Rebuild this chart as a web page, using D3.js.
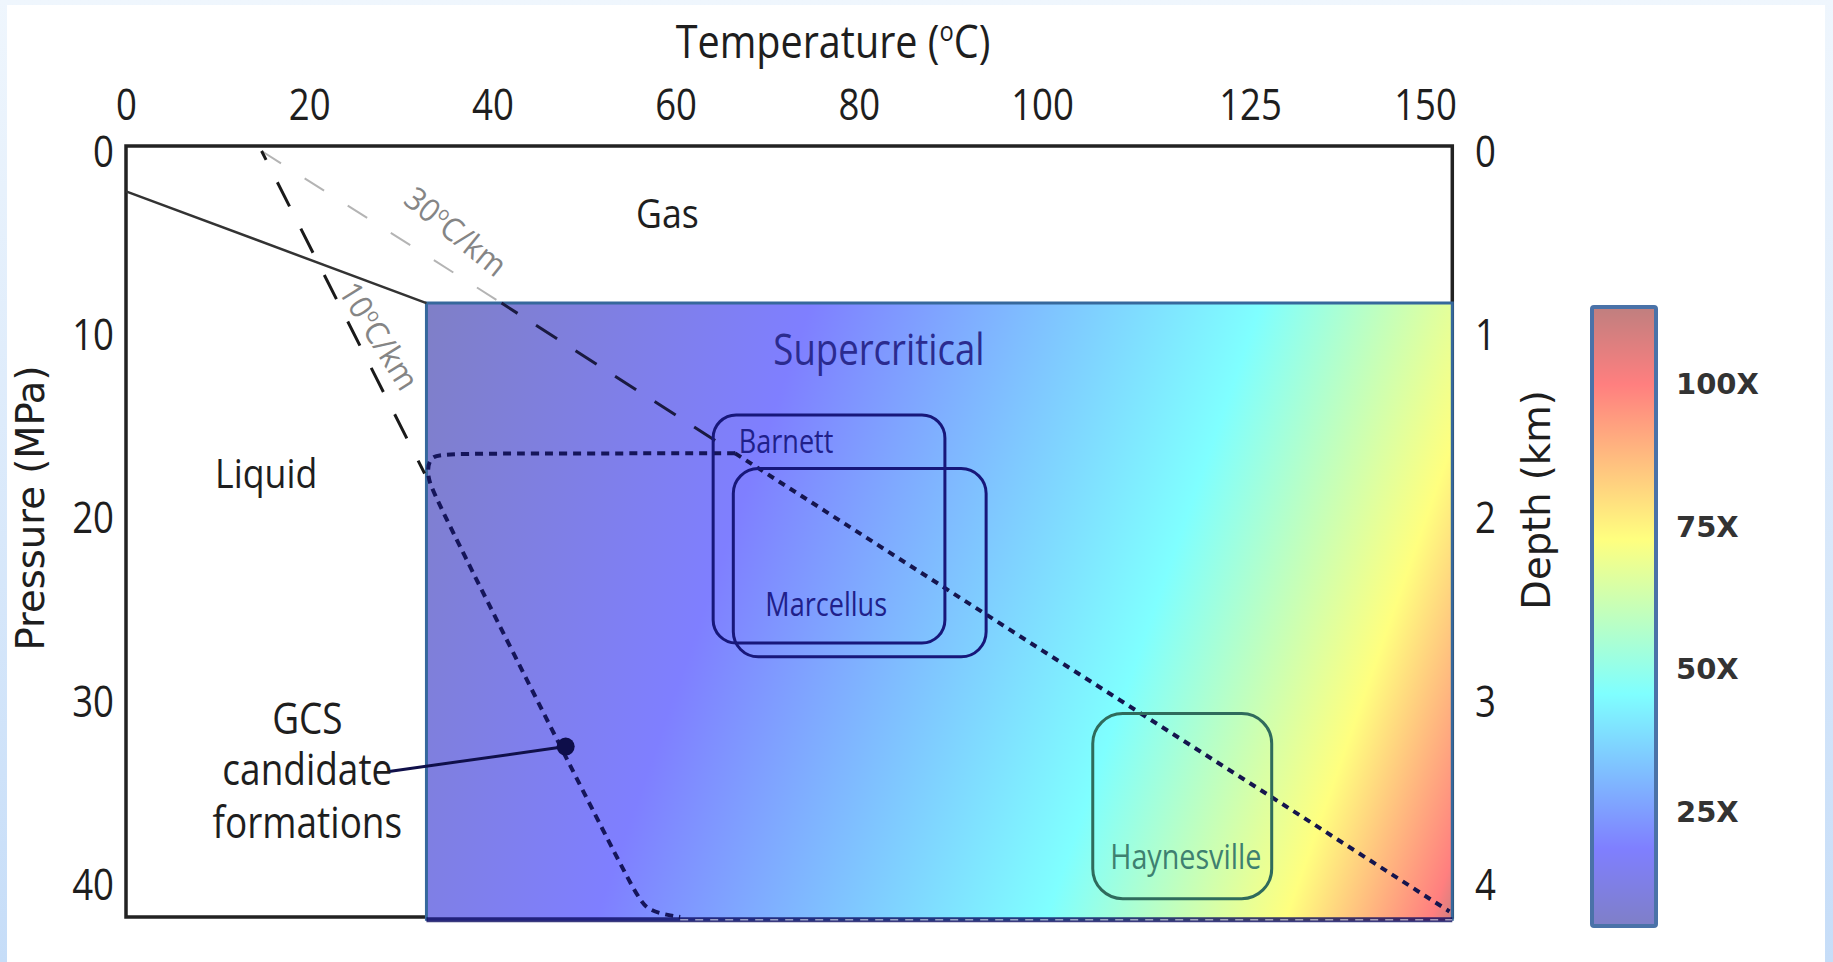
<!DOCTYPE html>
<html>
<head>
<meta charset="utf-8">
<script src="https://cdn.jsdelivr.net/npm/d3@7"></script>
<style>
  html, body { margin: 0; padding: 0; background: #fff; }
  svg { display: block; }
</style>
</head>
<body>
<svg id="chart" width="1833" height="962"></svg>
<script>
// ---- Axis ticks ----
const tempTicks = [0, 20, 40, 60, 80, 100, 125, 150];     // °C
const pressureTicks = [0, 10, 20, 30, 40];                 // MPa
const depthTicks = [0, 1, 2, 3, 4];                        // km
const ratioTicks = [25, 50, 75, 100];                      // colour bar, "X"

// ---- CO2 phase diagram [T °C, P MPa] ----
const criticalPoint = [32.8, 8.3];
const boilingLine = [[0, 2.2], criticalPoint];

// ---- Geotherms [T °C, P MPa] ----
const geotherm10 = [[14.8, 0], [32.6, 17.6]];
const geotherm30Shallow = [[14.8, 0], [41.0, 8.3]];
const geotherm30Mid = [[41.0, 8.3], [66.5, 16.5]];
const geotherm30Deep = [[66.5, 16.5], [100, 27.25], [125, 34.5], [153.5, 41.5]];

// ---- Envelope of GCS candidate formations ----
const gcsEnvelope = [[66.5, 16.5], [35.5, 16.5], [33.0, 16.6], [32.9, 17.8], [33.6, 18.8],
                     [55.4, 40.4], [56.8, 41.5], [60.5, 41.8]];
const gcsMarker = [48.0, 32.5];
const gcsLeaderEnd = [28.7, 33.86];

// ---- Shale formations: temperature and pressure ranges ----
const formations = ["Barnett", "Marcellus", "Haynesville"];
const formationT = [[64.1, 89.4], [66.3, 93.9], [106.1, 128.1]];
const formationP = [[14.4, 26.85], [17.33, 27.6], [30.7, 40.8]];
const formationLabelAt = [[66.9, 16.5], [69.8, 25.4], [108.2, 39.2]];

// ---- Region labels ----
const regionNames = ["Gas", "Liquid", "Supercritical"];
const regionAt = [[59.1, 4.2], [15.3, 18.4], [82.2, 11.66]];
const gcsLabelLines = ["GCS", "candidate", "formations"];
const gcsLabelT = 19.8;
const gcsLabelP = [31.8, 34.6, 37.5];
const geothermLabels = ["30", "10"];
const geothermLabelAt = [[36.0, 4.4], [27.6, 10.1]];

// ---- Plot extents ----
const tMax = 153.9, pTop = -0.27, pBottom = 41.8, pFieldBottom = 42.0;

// ---- Jet colour map (drawn at half opacity) ----
const jetStops = [0, 0.125, 0.375, 0.625, 0.875, 1];
const jetColors = ["#00008f", "#0000ff", "#00ffff", "#ffff00", "#ff0000", "#800000"];
// where each jet stop falls across the supercritical field (fraction of the field span)
const fieldStopOffsets = [0, 0.308, 0.668, 0.86, 0.976, 1];

const W = 1833, H = 962;
const svg = d3.select("#chart");
const defs = svg.append("defs");

// Scales
const x = d3.scaleLinear().domain([0, 100, 125, 150]).range([126, 1042, 1250, 1425]);
const y = d3.scaleLinear().domain([0, 40]).range([151, 884]);
const yDepth = d3.scaleLinear().domain([0, 4]).range([y(0), y(40)]);
const yRatio = d3.scaleLinear().domain([25, 100]).range([811, 383.5]);

const line = d3.line().x(d => x(d[0])).y(d => y(d[1]));
const SANS = "'Open Sans', 'Noto Sans', sans-serif";

// Page background
const bg = defs.append("linearGradient").attr("id", "pageBg")
  .attr("x1", 0).attr("y1", 0).attr("x2", 0).attr("y2", 1);
bg.append("stop").attr("offset", 0).attr("stop-color", "#eff6fd");
bg.append("stop").attr("offset", 1).attr("stop-color", "#c6ddf8");
svg.append("rect").attr("width", W).attr("height", H).attr("fill", "url(#pageBg)");
svg.append("rect").attr("x", 7).attr("y", 5).attr("width", 1818).attr("height", H - 5).attr("fill", "#fff");

// Text helper: condensed sans via horizontal scaling
function label(g, txt, px, py, size, o = {}) {
  const t = g.append("text")
    .attr("transform", `translate(${px},${py}) rotate(${o.rotate || 0}) scale(${o.sx == null ? 0.86 : o.sx},1)`)
    .attr("font-family", o.family || SANS)
    .attr("font-size", size)
    .attr("font-weight", o.weight || 400)
    .attr("fill", o.fill || "#1e1e1e")
    .attr("text-anchor", o.anchor || "middle");
  if (o.dy) t.attr("dy", o.dy);
  if (txt != null) t.text(txt);
  return t;
}
// "<pre>oC<post>" with a raised small o
function degreeText(t, pre, post, size) {
  const lift = size * 0.36;
  t.append("tspan").text(pre);
  t.append("tspan").attr("font-size", size * 0.6).attr("dy", -lift).text("o");
  t.append("tspan").attr("dy", lift).text(post);
}

// Frame
svg.append("path")
  .attr("d", `M${x(0)},${y(pBottom)}V${y(pTop)}H${x(tMax)}V${y(pBottom)}Z`)
  .attr("fill", "none").attr("stroke", "#222").attr("stroke-width", 3.5);

// Supercritical field
const fx0 = x(criticalPoint[0]), fy0 = y(criticalPoint[1]);
const fx1 = x(tMax), fy1 = y(pFieldBottom);
const tilt = 0.35, span = 1250;
const jf = defs.append("linearGradient").attr("id", "jetField")
  .attr("gradientUnits", "userSpaceOnUse")
  .attr("x1", fx0).attr("y1", fy0)
  .attr("x2", fx0 + span / (1 + tilt * tilt)).attr("y2", fy0 + tilt * span / (1 + tilt * tilt));
jetStops.forEach((s, i) => jf.append("stop").attr("offset", fieldStopOffsets[i]).attr("stop-color", jetColors[i]));

const field = svg.append("g");
field.append("rect").attr("x", fx0).attr("y", fy0).attr("width", fx1 - fx0).attr("height", fy1 - fy0).attr("fill", "#fff");
field.append("rect").attr("x", fx0).attr("y", fy0).attr("width", fx1 - fx0).attr("height", fy1 - fy0)
  .attr("fill", "url(#jetField)").attr("fill-opacity", 0.5);
field.append("path").attr("d", `M${fx0},${fy1}V${fy0}H${fx1}V${fy1}`)
  .attr("fill", "none").attr("stroke", "#36689c").attr("stroke-width", 3);
field.append("line").attr("x1", fx0).attr("x2", fx1).attr("y1", fy1 - 1).attr("y2", fy1 - 1)
  .attr("stroke", "rgba(10,10,95,0.8)").attr("stroke-width", 5);
field.append("line").attr("x1", x(60.5)).attr("x2", fx1).attr("y1", fy1 - 1).attr("y2", fy1 - 1)
  .attr("stroke", "rgba(255,255,255,0.55)").attr("stroke-width", 1.5).attr("stroke-dasharray", "8 7");

// Liquid-gas boundary
svg.append("path").attr("d", line(boilingLine)).attr("fill", "none")
  .attr("stroke", "#333").attr("stroke-width", 2.5);

// Geotherms
svg.append("path").attr("d", line(geotherm30Shallow)).attr("fill", "none")
  .attr("stroke", "#b4b4b4").attr("stroke-width", 2).attr("stroke-dasharray", "23 28");
svg.append("path").attr("d", line(geotherm10)).attr("fill", "none")
  .attr("stroke", "#1a1a1a").attr("stroke-width", 3).attr("stroke-dasharray", "27 25").attr("stroke-dashoffset", 17);
svg.append("path").attr("d", line(geotherm30Mid)).attr("fill", "none")
  .attr("stroke", "#1a1a40").attr("stroke-width", 3).attr("stroke-dasharray", "25 22").attr("stroke-dashoffset", 6);
svg.append("path").attr("d", line(geotherm30Deep)).attr("fill", "none")
  .attr("stroke", "#15154e").attr("stroke-width", 4).attr("stroke-dasharray", "7 6");

// GCS envelope
svg.append("path").attr("d", line.curve(d3.curveBasis)(gcsEnvelope)).attr("fill", "none")
  .attr("stroke", "#15155a").attr("stroke-width", 4).attr("stroke-dasharray", "8 6");
line.curve(d3.curveLinear);

// Formation boxes
const boxStroke = { Barnett: "#17177a", Marcellus: "#17177a", Haynesville: "#2f6b5c" };
const boxRadius = { Barnett: 23, Marcellus: 25, Haynesville: 30 };
const labelFill = { Barnett: "#20208a", Marcellus: "#20208a", Haynesville: "#3e8070" };
const labelSize = { Barnett: 33, Marcellus: 33, Haynesville: 35 };
formations.forEach((name, i) => {
  const [t0, t1] = formationT[i], [p0, p1] = formationP[i];
  svg.append("rect")
    .attr("x", x(t0)).attr("y", y(p0)).attr("width", x(t1) - x(t0)).attr("height", y(p1) - y(p0))
    .attr("rx", boxRadius[name]).attr("fill", "none")
    .attr("stroke", boxStroke[name]).attr("stroke-width", 3);
});
formations.forEach((name, i) => {
  const [lt, lp] = formationLabelAt[i];
  label(svg, name, x(lt), y(lp), labelSize[name], { anchor: "start", fill: labelFill[name], sx: 0.82 });
});

// GCS marker and leader
svg.append("path").attr("d", line([gcsMarker, gcsLeaderEnd])).attr("fill", "none")
  .attr("stroke", "#10104a").attr("stroke-width", 3);
svg.append("circle").attr("cx", x(gcsMarker[0])).attr("cy", y(gcsMarker[1])).attr("r", 9).attr("fill", "#0e0e4a");

// Region labels
regionNames.forEach((name, i) => {
  const [t, p] = regionAt[i];
  const isSC = name === "Supercritical";
  label(svg, name, x(t), y(p), isSC ? 43 : 41, { fill: isSC ? "#2b2b8f" : "#1e1e1e", sx: isSC ? 0.85 : 0.87 });
});
gcsLabelLines.forEach((txt, i) => label(svg, txt, x(gcsLabelT), y(gcsLabelP[i]), 43, { sx: 0.86 }));

// Geotherm labels
const geothermAngle = [39, 58];
geothermLabels.forEach((g, i) => {
  const [t, p] = geothermLabelAt[i];
  const el = label(svg, null, x(t), y(p), 32, { rotate: geothermAngle[i], sx: 0.95, fill: "#858585", dy: "0.35em" });
  degreeText(el, g, "C/km", 32);
});

// Axes
function styleAxis(g, sx) {
  g.select(".domain").remove();
  g.attr("font-family", SANS).attr("font-size", 43);
  g.selectAll("text").attr("fill", "#1e1e1e").attr("transform", `scale(${sx},1)`);
}
svg.append("g").attr("transform", "translate(0,120)")
  .call(d3.axisTop(x).tickValues(tempTicks).tickSize(0).tickPadding(0).tickFormat(d3.format("d")))
  .call(g => styleAxis(g, 0.85));
svg.append("g").attr("transform", "translate(114,0)")
  .call(d3.axisLeft(y).tickValues(pressureTicks).tickSize(0).tickPadding(0).tickFormat(d3.format("d")))
  .call(g => styleAxis(g, 0.85))
  .call(g => g.selectAll("text").attr("dy", "0.36em"));
svg.append("g").attr("transform", "translate(1475,0)")
  .call(d3.axisRight(yDepth).tickValues(depthTicks).tickSize(0).tickPadding(0).tickFormat(d3.format("d")))
  .call(g => styleAxis(g, 0.85))
  .call(g => g.selectAll("text").attr("dy", "0.36em"));

// Axis titles
const tt = label(svg, null, 833, 58, 46, { sx: 0.86 });
degreeText(tt, "Temperature (", "C)", 46);
label(svg, "Pressure (MPa)", 44, 508, 38.5, { rotate: -90, sx: 1, family: "'DejaVu Sans', sans-serif" });
label(svg, "Depth (km)", 1550, 500, 38.5, { rotate: -90, sx: 1, family: "'DejaVu Sans', sans-serif" });

// Colour bar
const cbX = 1592, cbW = 64, cbTop = 307, cbBottom = 926;
const cb = defs.append("linearGradient").attr("id", "jetBar")
  .attr("x1", 0).attr("y1", 1).attr("x2", 0).attr("y2", 0);
jetStops.forEach((s, i) => cb.append("stop").attr("offset", s).attr("stop-color", jetColors[i]));
svg.append("rect").attr("x", cbX).attr("y", cbTop).attr("width", cbW).attr("height", cbBottom - cbTop).attr("fill", "#fff");
svg.append("rect").attr("x", cbX).attr("y", cbTop).attr("width", cbW).attr("height", cbBottom - cbTop)
  .attr("fill", "url(#jetBar)").attr("fill-opacity", 0.5)
  .attr("stroke", "#4a72a8").attr("stroke-width", 4).attr("stroke-opacity", 1).attr("rx", 2);
svg.append("g").attr("transform", "translate(1676,0)")
  .call(d3.axisRight(yRatio).tickValues(ratioTicks).tickSize(0).tickPadding(0).tickFormat(d => d + "X"))
  .call(g => g.select(".domain").remove())
  .call(g => g.attr("font-family", "'DejaVu Sans', sans-serif").attr("font-size", 29).attr("font-weight", 700))
  .call(g => g.selectAll("text").attr("fill", "#333").attr("dy", "0.36em"));
</script>
</body>
</html>
